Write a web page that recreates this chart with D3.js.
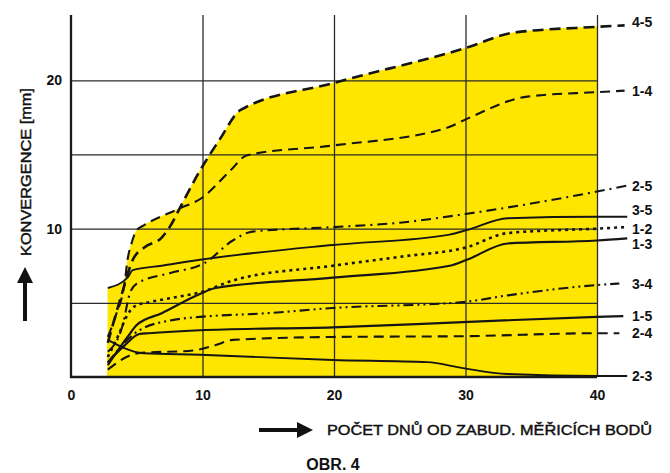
<!DOCTYPE html>
<html>
<head>
<meta charset="utf-8">
<script src="https://cdn.jsdelivr.net/npm/d3@7"></script>
<style>
  body{margin:0;background:#fff;}
  text{font-family:"Liberation Sans",Arial,sans-serif;fill:#111;}
</style>
</head>
<body>
<div id="viz"></div>
<script>
// convergence [mm] against days since the measuring points were installed
// each series is a list of [day, mm] read off the figure
let s45=[[2.8,2.3],[3.9,5.7],[4.7,7.9],[5.6,8.75],[6.9,9.4],[7.5,10.1],[8.4,11.6],[9.8,13.9],[11.3,16.0],[12.9,18.0],[19.9,19.8],[30.1,22.2],[33.6,23.2],[40,23.6],[42.1,23.7]];
let s14=[[2.8,2.7],[3.35,4.0],[4.1,6.5],[4.3,7.9],[4.6,9.0],[5.0,9.9],[5.5,10.2],[8.1,11.3],[10,12.1],[12.1,13.9],[13.4,14.95],[19.9,15.6],[28.6,16.8],[30.1,17.4],[34.7,18.9],[40,19.2],[42.1,19.3]];
let s25=[[2.8,1.7],[3.9,3.4],[4.5,5.7],[5.0,6.3],[7.5,7.0],[10.2,7.7],[12.3,9.2],[13.8,9.8],[19.9,10.1],[25,10.4],[30.1,11.0],[40,12.5],[42.3,12.9]];
let s35=[[2.8,6.0],[4.3,6.7],[4.7,7.2],[6.9,7.5],[9.8,7.9],[19.9,8.9],[28.8,9.6],[30.1,9.9],[33.2,10.7],[40,10.8],[42.3,10.8]];
let s12=[[2.8,1.35],[3.6,2.8],[4.3,4.2],[4.9,4.8],[6.0,5.05],[8.1,5.4],[9.8,5.7],[12.3,6.5],[19.9,7.5],[25,8.1],[30.1,8.75],[33.2,9.7],[40,10.0],[42.1,10.1]];
let s13=[[2.8,0.8],[4.3,2.7],[5.0,3.5],[6.9,4.3],[9.8,5.6],[11,6.0],[19.9,6.7],[28.8,7.5],[30.1,7.9],[33.2,9.0],[40,9.2],[42.3,9.35]];
let s34=[[2.8,0.95],[4.1,2.35],[5.2,3.15],[7.8,3.85],[9.8,4.05],[14.9,4.3],[19.9,4.65],[29.8,5.05],[33.2,5.5],[40,6.2],[41.7,6.3]];
let s15=[[2.8,1.0],[4.1,2.15],[5.2,2.9],[5.9,2.95],[9.8,3.15],[19.9,3.35],[29.8,3.7],[40,4.05],[42,4.1]];
let s24=[[2.8,0.5],[5.1,1.6],[9.4,1.8],[11,2.15],[12.3,2.5],[19.9,2.7],[29.8,2.75],[40,2.95],[41.7,2.95]];
let s23=[[2.8,2.5],[5.5,1.6],[9.8,1.5],[19.9,1.15],[27.1,1.0],[29.8,0.6],[33.2,0.2],[40,0.07],[42.3,0.07]];

let seriesNames=['4-5','1-4','2-5','3-5','1-2','1-3','3-4','1-5','2-4','2-3'];
let seriesData=[s45,s14,s25,s35,s12,s13,s34,s15,s24,s23];

let xTicks=[0,10,20,30,40],
    yTicks=[10,20],
    xGridTicks=[10,20,30,40],
    yGridTicks=[5,10,15,20];

// line looks, same order as seriesNames
let dashes=['11,6','10,6','10,5,2,5',null,'3,4',null,'10,4,2,4,2,4',null,'10,6',null];
let widths=[2.6,2.1,2.1,1.9,2.6,2.2,2.1,2.2,2.1,1.9];
let labelNudge=[-3,0,0,-7,2,6,0,0,0,0];

let width=670,
    height=473;

let x=d3.scaleLinear().domain([0,40]).range([71,597]);
let y=d3.scaleLinear().domain([0,24.4]).range([377,15]);

let svg=d3.select('#viz').append('svg')
    .attr('width',width)
    .attr('height',height);

// yellow band = union of the areas under every curve (up to day 40)
let area=d3.area()
    .curve(d3.curveMonotoneX)
    .x(function(d){return x(d[0]);})
    .y0(y(0))
    .y1(function(d){return y(d[1]);});

svg.append('g').selectAll('path').data(seriesData)
  .enter().append('path')
    .attr('d',function(d){
      return area(d.filter(function(p){return p[0]<=40;}));
    })
    .style('fill','#ffe600')
    .style('stroke','#ffe600')
    .style('stroke-width',0.5);

// grid
let xGrid=svg.append('g')
    .attr('transform','translate(0,'+y(0)+')')
    .call(d3.axisBottom(x).tickValues(xGridTicks).tickSize(-(y(0)-y(24.4))).tickFormat(''));
let yGrid=svg.append('g')
    .attr('transform','translate('+x(0)+',0)')
    .call(d3.axisLeft(y).tickValues(yGridTicks).tickSize(-(x(40)-x(0))).tickFormat(''));
[xGrid,yGrid].forEach(function(g){
  g.select('.domain').remove();
  g.selectAll('line').style('stroke','#2b2b2b').style('stroke-width',1.3);
});

// main axes lines
svg.append('line')
    .attr('x1',x(0)).attr('x2',x(0))
    .attr('y1',y(0)+1).attr('y2',y(24.4))
    .style('stroke','#1a1a1a').style('stroke-width',2.3);
svg.append('line')
    .attr('x1',x(0)-1).attr('x2',x(40))
    .attr('y1',y(0)).attr('y2',y(0))
    .style('stroke','#1a1a1a').style('stroke-width',2.3);

// tick labels
let xAxis=svg.append('g')
    .attr('transform','translate(0,'+y(0)+')')
    .call(d3.axisBottom(x).tickValues(xTicks).tickSize(0).tickPadding(13));
let yAxis=svg.append('g')
    .attr('transform','translate('+x(0)+',0)')
    .call(d3.axisLeft(y).tickValues(yTicks).tickSize(0).tickPadding(9));
[xAxis,yAxis].forEach(function(g){
  g.select('.domain').remove();
  g.selectAll('text')
    .style('font-family','"Liberation Sans",Arial,sans-serif')
    .style('font-size','14px')
    .style('font-weight','bold')
    .style('fill','#111');
});

// curves
let line=d3.line()
    .curve(d3.curveMonotoneX)
    .x(function(d){return x(d[0]);})
    .y(function(d){return y(d[1]);});

svg.append('g').selectAll('path').data(seriesData)
  .enter().append('path')
    .attr('d',function(d){return line(d);})
    .style('fill','none')
    .style('stroke','#151515')
    .style('stroke-width',function(d,i){return widths[i];})
    .style('stroke-dasharray',function(d,i){return dashes[i];});

// curve labels on the right
svg.append('g').selectAll('text').data(seriesData)
  .enter().append('text')
    .attr('x',632)
    .attr('y',function(d,i){return y(d[d.length-1][1])+labelNudge[i];})
    .attr('dy','0.36em')
    .style('font-size','14px')
    .style('font-weight','bold')
    .text(function(d,i){return seriesNames[i];});

// axis titles with arrows
svg.append('defs').append('marker')
    .attr('id','head')
    .attr('viewBox','0 0 10 10')
    .attr('refX',0).attr('refY',5)
    .attr('markerWidth',4).attr('markerHeight',4)
    .attr('orient','auto')
  .append('path')
    .attr('d','M0,0L10,5L0,10Z')
    .style('fill','#111');

svg.append('line')
    .attr('x1',25).attr('x2',25)
    .attr('y1',321).attr('y2',283)
    .attr('marker-end','url(#head)')
    .style('stroke','#111').style('stroke-width',4);

svg.append('line')
    .attr('x1',259).attr('x2',297)
    .attr('y1',430).attr('y2',430)
    .attr('marker-end','url(#head)')
    .style('stroke','#111').style('stroke-width',4);

svg.append('text')
    .attr('transform','translate(31,172) rotate(-90)')
    .attr('text-anchor','middle')
    .attr('textLength',168)
    .attr('lengthAdjust','spacingAndGlyphs')
    .style('font-size','15px')
    .style('stroke','#111')
    .style('stroke-width',0.45)
    .text('KONVERGENCE [mm]');

svg.append('text')
    .attr('x',327)
    .attr('y',435)
    .attr('textLength',325)
    .attr('lengthAdjust','spacingAndGlyphs')
    .style('font-size','15px')
    .style('stroke','#111')
    .style('stroke-width',0.45)
    .text('POČET DNŮ OD ZABUD. MĚŘICÍCH BODŮ');

svg.append('text')
    .attr('x',333)
    .attr('y',470)
    .attr('text-anchor','middle')
    .style('font-size','16px')
    .style('font-weight','bold')
    .text('OBR. 4');
</script>
</body>
</html>
